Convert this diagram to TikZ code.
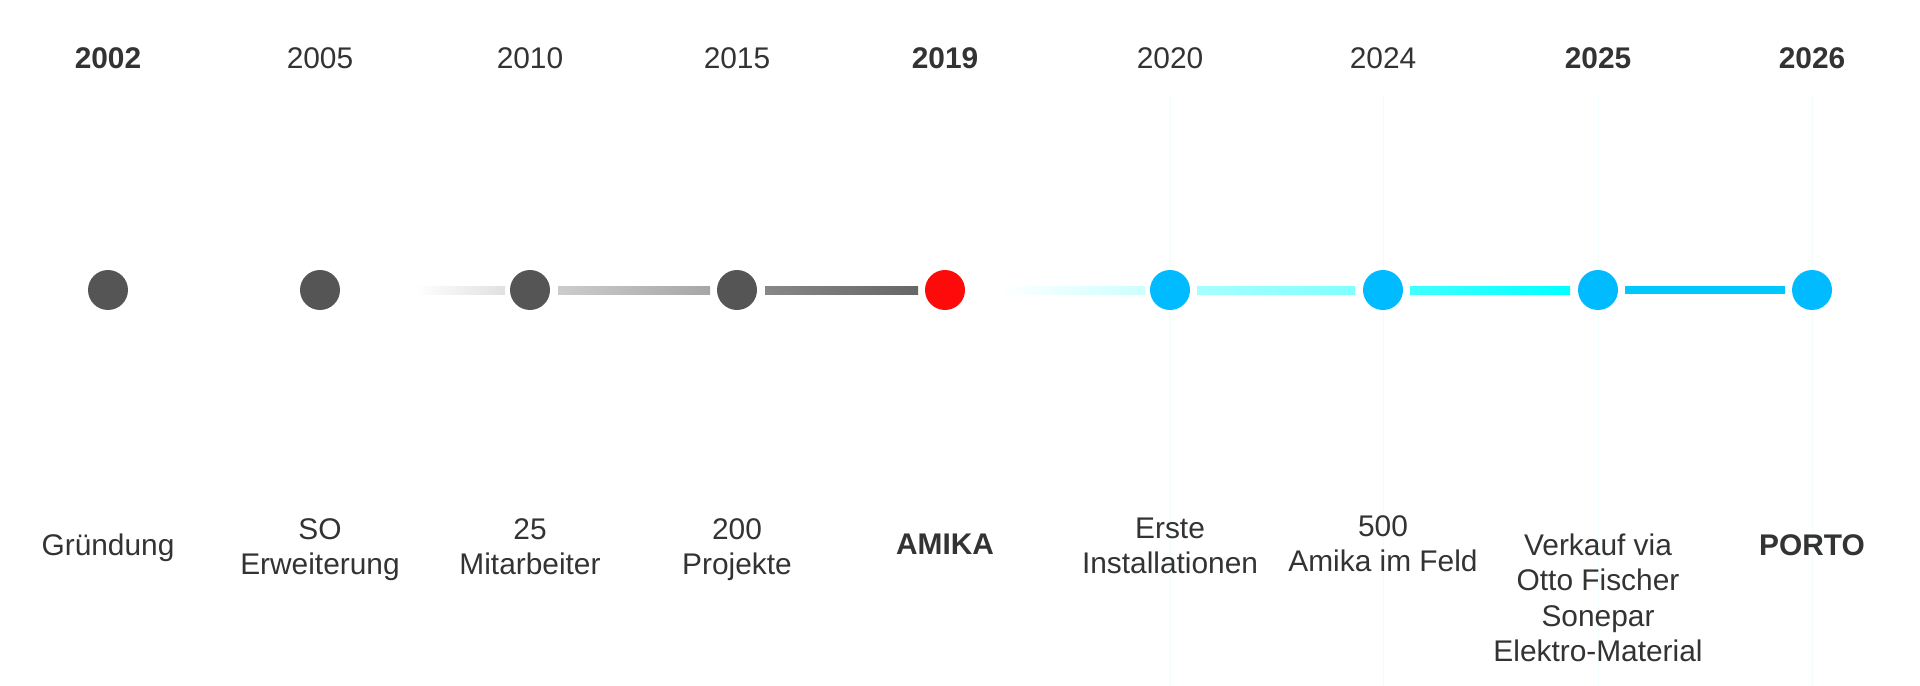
\documentclass[tikz,border=0pt]{standalone}
\usepackage{fontspec}
\setmainfont{Liberation Sans}
\begin{document}
\begin{tikzpicture}[x=0.02cm,y=-0.02cm,
  yr/.style={font=\fontsize{17}{20}\selectfont,text=black!80},
  lb/.style={font=\fontsize{17}{20}\selectfont,text=black!80,align=center,anchor=north},
  dot/.style={circle,minimum size=40\pgflinewidth,inner sep=0pt,minimum size=0.8cm},
  seg/.style={line width=0.16cm},
  vl/.style={draw=cyan!5,line width=0.5pt}]
\useasboundingbox (0,0) rectangle (1920,686);
\foreach \x in {1170,1383,1598,1812}{
  \draw[vl] (\x,95) -- (\x,268);
  \draw[vl] (\x,312) -- (\x,686);}
\definecolor{dk}{HTML}{555555}
\definecolor{rd}{HTML}{FF0A0A}
\definecolor{bl}{HTML}{00BBFF}
\foreach \n/\x/\c in {a/108/dk,b/320/dk,c/530/dk,d/737/dk,e/945/rd,f/1170/bl,g/1383/bl,h/1598/bl,i/1812/bl}
  \node[dot,fill=\c] (\n) at (\x,290) {};
\shade[left color=white,right color=black!12] (415,286) rectangle (505,294);
\shade[left color=black!20,right color=black!35] (558,286) rectangle (710,294);
\shade[left color=black!47,right color=black!60] (765,286) rectangle (918,294);
\shade[left color=white,right color=cyan!20] (1000,286) rectangle (1145,294);
\shade[left color=cyan!35,right color=cyan!50] (1197,286) rectangle (1355,294);
\shade[left color=cyan!75,right color=cyan] (1410,286) rectangle (1570,294);
\fill[color={rgb,255:red,0;green,200;blue,255}] (1625,286) rectangle (1785,294);
\node[yr,font=\fontsize{17}{20}\selectfont\bfseries] (ya) at (108,58) {2002};
\node[yr] (yb) at (320,58) {2005};
\node[yr] (yc) at (530,58) {2010};
\node[yr] (yd) at (737,58) {2015};
\node[yr,font=\fontsize{17}{20}\selectfont\bfseries] (ye) at (945,58) {2019};
\node[yr] (yf) at (1170,58) {2020};
\node[yr] (yg) at (1383,58) {2024};
\node[yr,font=\fontsize{17}{20}\selectfont\bfseries] (yh) at (1598,58) {2025};
\node[yr,font=\fontsize{17}{20}\selectfont\bfseries] (yi) at (1812,58) {2026};
\node[lb] (la) at (108,528) {Gründung};
\node[lb] (lb) at (320,512) {SO\\Erweiterung};
\node[lb] (lc) at (530,512) {25\\Mitarbeiter};
\node[lb] (ld) at (737,512) {200\\Projekte};
\node[lb,font=\fontsize{17}{20}\selectfont\bfseries] (le) at (945,528) {AMIKA};
\node[lb] (lf) at (1170,512) {Erste\\Installationen};
\node[lb] (lg) at (1383,509) {500\\Amika im Feld};
\node[lb] (lh) at (1598,528) {Verkauf via\\Otto Fischer\\Sonepar\\Elektro-Material};
\node[lb,font=\fontsize{17}{20}\selectfont\bfseries] (li) at (1812,528) {PORTO};
\end{tikzpicture}
\end{document}
